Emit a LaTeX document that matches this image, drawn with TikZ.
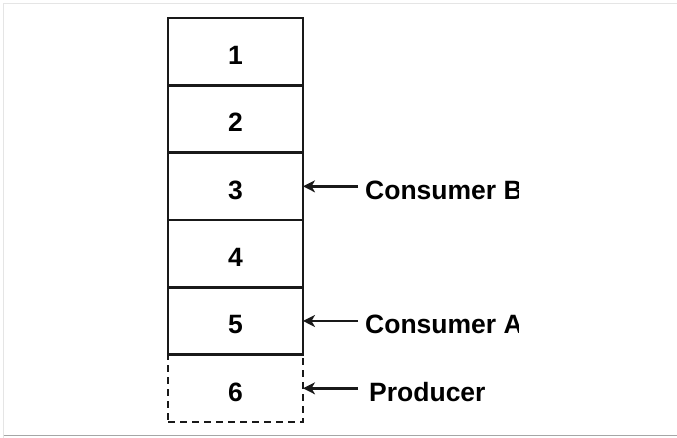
\documentclass[tikz,border=0pt]{standalone}
\usepackage{fontspec}
\setmainfont{Liberation Sans}
\usetikzlibrary{positioning,arrows.meta}

\tikzset{
  bigtext/.style={font=\fontsize{26.5}{30}\selectfont\bfseries, text height=26pt, text depth=0pt},
  cell/.style={bigtext, draw=black!90, line width=2.4pt, minimum width=135pt, minimum height=67.33pt,
    outer sep=0pt, inner sep=0pt},
  newcell/.style={cell, dash pattern=on 7pt off 5pt},
  tag/.style={bigtext, anchor=west, inner xsep=0pt},
  pointer/.style={draw=black!90, line width=2.4pt, -{Stealth[length=12pt,width=12pt,inset=3.5pt]}}
}

\begin{document}
\begin{tikzpicture}[x=1pt,y=-1pt]
  \useasboundingbox (0,0) rectangle (677,438);
  \draw[black!10, line width=1.5pt] (3.5,438) -- (3.5,3.5) -- (680,3.5);
  \draw[black!35, line width=1.5pt] (3.5,435.5) -- (680,435.5);

  \node[cell] (c1) at (235.5,51.67) {1};
  \node[cell, below=0pt of c1] (c2) {2};
  \node[cell, below=0pt of c2] (c3) {3};
  \node[cell, below=0pt of c3] (c4) {4};
  \node[cell, below=0pt of c4] (c5) {5};
  \node[newcell, below=0pt of c5] (c6) {6};

  \begin{scope}
    \clip (0,0) rectangle (518,438);
    \node[tag, right=62pt of c3] (consB) {Consumer B};
    \node[tag, right=62pt of c5] (consA) {Consumer A};
    \node[tag, right=66pt of c6] (prod) {Producer};
  \end{scope}

  \draw[pointer] ([xshift=-7pt]consB.west) -- (c3.east);
  \draw[pointer] ([xshift=-7pt]consA.west) -- (c5.east);
  \draw[pointer] ([xshift=-11pt]prod.west) -- (c6.east);
\end{tikzpicture}
\end{document}
